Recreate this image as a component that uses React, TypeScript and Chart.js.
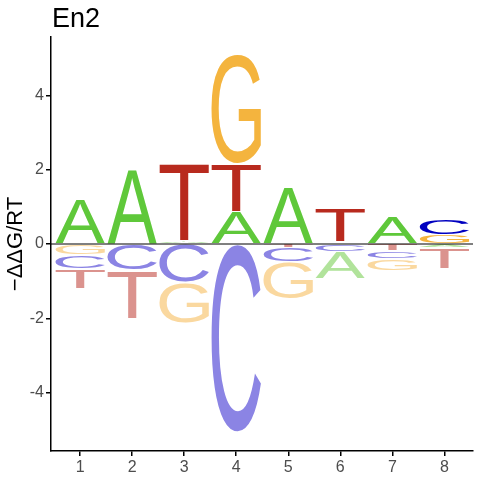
import React, { useEffect, useRef } from "react";
import { Chart, registerables } from "chart.js";

Chart.register(...registerables);

// ---- data ----
const positions = [1, 2, 3, 4, 5, 6, 7, 8];
const letters = ["A", "C", "G", "T"];
const heightA = [1.21, 2.02, 0.08, 0.87, 1.54, -0.72, 0.73, -0.1];
const heightC = [-0.36, -0.7, -1.03, -5.06, -0.38, -0.22, -0.22, 0.43];
const heightG = [-0.3, 0, -1.1, 2.93, -0.99, 0.05, -0.32, 0.24];
const heightT = [-0.53, -1.3, 2.08, 1.29, -0.11, 0.89, -0.19, -0.57];
const yTicks = [-4, -2, 0, 2, 4];
const titleText = "En2";
const yTitle = "\u2212\u0394\u0394G/RT";

const seriesHeights = [heightA, heightC, heightG, heightT];

const posColor: Record<string, string> = { A: "#5FC83A", C: "#0000C0", G: "#F4B43E", T: "#B82A1E" };
const negColor: Record<string, string> = { A: "#B1E39B", C: "#8B84E4", G: "#FAD89F", T: "#DB938E" };
const LETTER_W = 0.95;
const FONT = "'Liberation Sans', Arial, sans-serif";
const GLYPH_FONT = "400 200px 'Liberation Sans', Arial, sans-serif";

function drawGlyph(ctx: CanvasRenderingContext2D, ch: string, x0: number, x1: number, yTop: number, yBot: number, color: string) {
  if (yBot - yTop < 0.3) return;
  ctx.save();
  ctx.font = GLYPH_FONT;
  ctx.textAlign = "left";
  ctx.textBaseline = "alphabetic";
  const m = ctx.measureText(ch);
  const left = m.actualBoundingBoxLeft;
  const gw = m.actualBoundingBoxLeft + m.actualBoundingBoxRight;
  const asc = m.actualBoundingBoxAscent;
  const gh = m.actualBoundingBoxAscent + m.actualBoundingBoxDescent;
  ctx.translate(x0, yTop);
  ctx.scale((x1 - x0) / gw, (yBot - yTop) / gh);
  ctx.fillStyle = color;
  ctx.fillText(ch, left, asc);
  ctx.restore();
}

const logoPlugin = {
  id: "logoPlugin",
  afterDatasetsDraw(chart: any) {
    const { ctx, chartArea, scales } = chart;
    const xs = scales.x;
    const ys = scales.y;
    const inset = 0.7;
    positions.forEach((p, i) => {
      const entries = chart.data.datasets.map((ds: any) => ({ letter: ds.label, h: ds.data[i].y }));
      const pos = entries.filter((e: any) => e.h > 0).sort((a: any, b: any) => a.h - b.h);
      const neg = entries.filter((e: any) => e.h < 0).sort((a: any, b: any) => b.h - a.h);
      const x0 = xs.getPixelForValue(p - LETTER_W / 2);
      const x1 = xs.getPixelForValue(p + LETTER_W / 2);
      let cum = 0;
      pos.forEach((e: any) => {
        const top = ys.getPixelForValue(cum + e.h);
        const bot = ys.getPixelForValue(cum);
        drawGlyph(ctx, e.letter, x0, x1, top + inset, bot - inset, posColor[e.letter]);
        cum += e.h;
      });
      cum = 0;
      neg.forEach((e: any) => {
        const top = ys.getPixelForValue(cum);
        const bot = ys.getPixelForValue(cum + e.h);
        drawGlyph(ctx, e.letter, x0, x1, top + inset, bot - inset, negColor[e.letter]);
        cum += e.h;
      });
    });
    // zero line
    const y0 = ys.getPixelForValue(0);
    ctx.save();
    ctx.strokeStyle = "#000";
    ctx.lineWidth = 1;
    ctx.beginPath();
    ctx.moveTo(chartArea.left, y0);
    ctx.lineTo(chartArea.right, y0);
    ctx.stroke();
    // title
    ctx.fillStyle = "#000";
    ctx.font = `27px ${FONT}`;
    ctx.textAlign = "left";
    ctx.textBaseline = "alphabetic";
    ctx.fillText(titleText, chartArea.left + 1, 27);
    ctx.restore();
  },
};

export default function App() {
  const ref = useRef<HTMLCanvasElement | null>(null);
  useEffect(() => {
    if (!ref.current) return;
    const chart = new Chart(ref.current, {
      type: "scatter",
      data: {
        datasets: letters.map((l, k) => ({
          label: l,
          data: positions.map((p, i) => ({ x: p, y: seriesHeights[k][i] })),
          pointRadius: 0,
          pointHoverRadius: 0,
          showLine: false,
        })),
      },
      options: {
        responsive: false,
        animation: false,
        events: [],
        layout: { padding: { top: 37, right: 7, left: 0, bottom: 0 } },
        plugins: { legend: { display: false }, tooltip: { enabled: false }, title: { display: false } },
        scales: {
          x: {
            type: "linear",
            min: 0.44,
            max: 8.55,
            afterBuildTicks: (s: any) => {
              s.ticks = positions.map((v) => ({ value: v }));
            },
            afterFit: (s: any) => {
              s.height = 29;
            },
            ticks: { color: "#4D4D4D", font: { size: 16, family: FONT }, padding: 2, callback: (v: any) => String(v) },
            grid: { drawOnChartArea: false, drawTicks: true, tickLength: 5, color: "#000", lineWidth: 1.5 },
            border: { display: true, color: "#000", width: 1.5 },
          },
          y: {
            type: "linear",
            min: -5.57,
            max: 5.57,
            afterBuildTicks: (s: any) => {
              s.ticks = yTicks.map((v) => ({ value: v }));
            },
            afterFit: (s: any) => {
              s.width = 51;
            },
            ticks: { color: "#4D4D4D", font: { size: 16, family: FONT }, padding: 2, callback: (v: any) => String(v) },
            grid: { drawOnChartArea: false, drawTicks: true, tickLength: 5, color: "#000", lineWidth: 1.5 },
            border: { display: true, color: "#000", width: 1.5 },
            title: { display: true, text: yTitle, color: "#000", font: { size: 22, family: FONT }, padding: { top: 3, bottom: 0 } },
          },
        },
      },
      plugins: [logoPlugin],
    });
    return () => chart.destroy();
  }, []);
  return (
    <div style={{ position: "fixed", left: 0, top: 0, width: 480, height: 480, background: "#fff" }}>
      <canvas ref={ref} width={480} height={480} style={{ display: "block" }} />
    </div>
  );
}
